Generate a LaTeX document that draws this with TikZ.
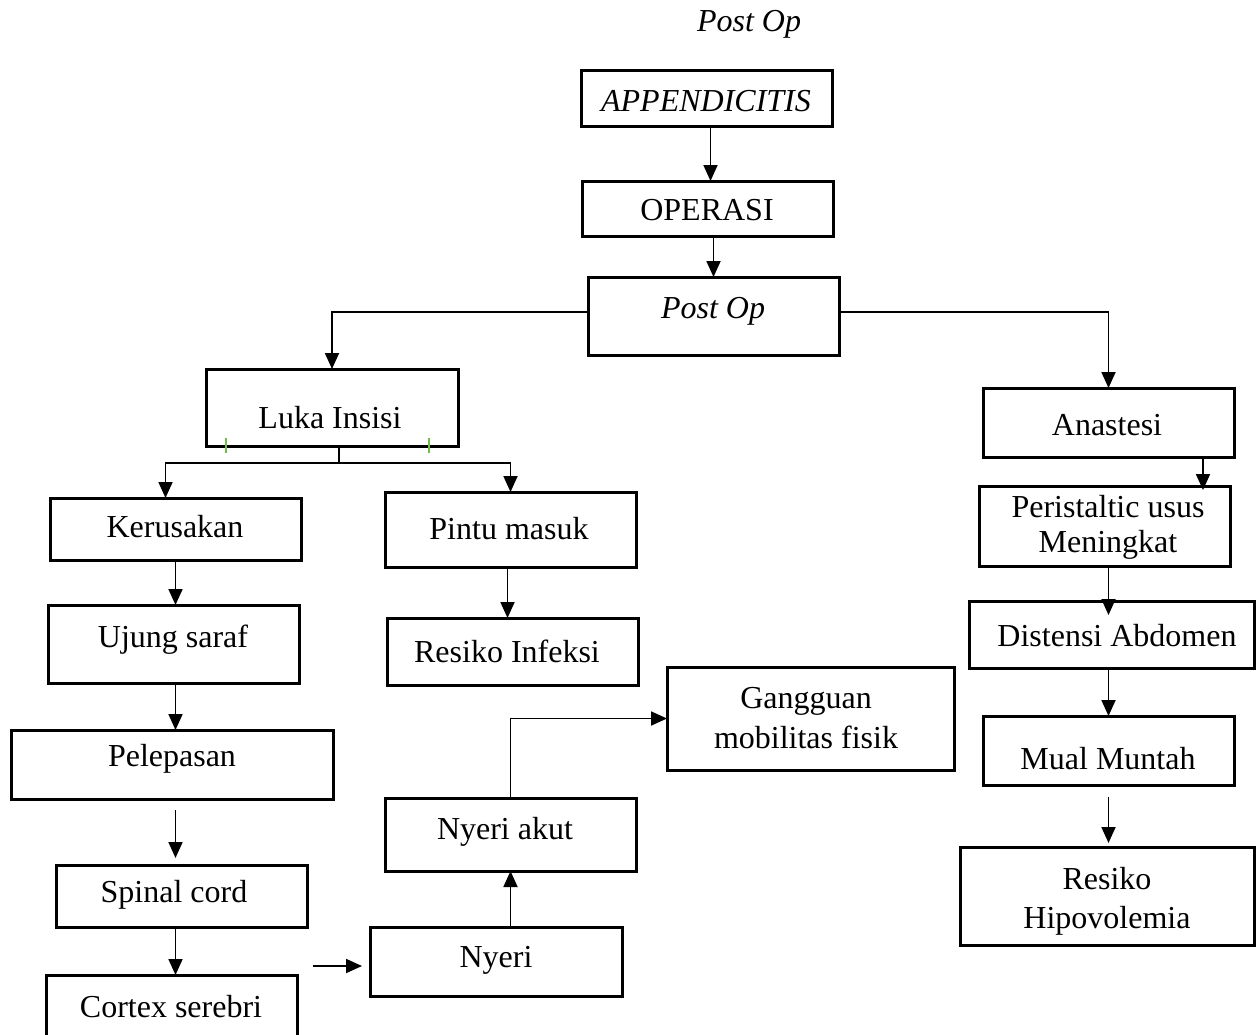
\documentclass[tikz,border=0pt]{standalone}
\usepackage{fontspec}
\setmainfont{Liberation Serif}
\usetikzlibrary{arrows.meta}
\definecolor{tickgreen}{RGB}{112,190,72}
\newcommand{\bx}[5]{\node[box, minimum width={(#4)-(#2)}, minimum height={(#5)-(#3)}] (#1) at ({((#2)+(#4))/2},{((#3)+(#5))/2}) {};}
\begin{document}
\begin{tikzpicture}[x=1pt,y=-1pt,
 box/.style={draw, line width=3pt, inner sep=0pt, outer sep=0pt},
 txt/.style={anchor=base, font=\fontsize{32}{39}\selectfont, inner sep=0pt},
 itxt/.style={txt, font=\fontsize{32}{39}\selectfont\itshape},
 conn/.style={line width=1.8pt},
 arr/.style={conn, -{Triangle[length=16pt,width=14pt]}},
]
\useasboundingbox (0,0) rectangle (1256,1034);

% title
\node[itxt] (title) at (749,31) {Post Op};

% boxes
\bx{app}{581}{70}{832}{126}
\bx{op}{582}{181}{833}{236}
\bx{post}{588}{277}{839}{355}
\bx{luka}{206}{369}{458}{446}
\bx{keru}{50}{498}{301}{560}
\bx{pintu}{385}{492}{636}{567}
\bx{ujung}{48}{605}{299}{683}
\bx{resinf}{387}{618}{638}{685}
\bx{pel}{11}{730}{333}{799}
\bx{spin}{56}{865}{307}{927}
\bx{cortex}{46}{975}{297}{1040}
\bx{nyeri}{370}{927}{622}{996}
\bx{nyakut}{385}{798}{636}{871}
\bx{gang}{667}{667}{954}{770}
\bx{anast}{983}{388}{1234}{457}
\bx{peri}{979}{486}{1230}{566}
\bx{dist}{969}{601}{1254}{668}
\bx{mual}{983}{716}{1234}{785}
\bx{hipo}{960}{847}{1254}{945}

% texts
\node[itxt] (t-app) at (706,111) {APPENDICITIS};
\node[txt] (t-op) at (707,220) {OPERASI};
\node[itxt] (t-post) at (713,318) {Post Op};
\node[txt] (t-luka) at (330,428) {Luka Insisi};
\node[txt] (t-keru) at (175,537) {Kerusakan};
\node[txt] (t-pintu) at (509,539) {Pintu masuk};
\node[txt] (t-ujung) at (173,647) {Ujung saraf};
\node[txt] (t-resinf) at (507,662) {Resiko Infeksi};
\node[txt] (t-pel) at (172,766) {Pelepasan};
\node[txt] (t-spin) at (174,902) {Spinal cord};
\node[txt] (t-cortex) at (171,1017) {Cortex serebri};
\node[txt] (t-nyeri) at (496,967) {Nyeri};
\node[txt] (t-nyakut) at (505,839) {Nyeri akut};
\node[txt] (t-gang1) at (806,708) {Gangguan};
\node[txt] (t-gang2) at (806,748) {mobilitas fisik};
\node[txt] (t-anast) at (1107,435) {Anastesi};
\node[txt] (t-peri1) at (1108,517) {Peristaltic usus};
\node[txt] (t-peri2) at (1108,552) {Meningkat};
\node[txt] (t-dist) at (1117,646) {Distensi Abdomen};
\node[txt] (t-mual) at (1108,769) {Mual Muntah};
\node[txt] (t-hipo1) at (1107,889) {Resiko};
\node[txt] (t-hipo2) at (1107,928) {Hipovolemia};

% connectors
\draw[arr] ([xshift=4pt]app.south) -- ([xshift=4pt]app.south |- op.north);
\draw[arr] (op.south -| post.north) -- (post.north);
\draw[arr] ([yshift=4pt]post.west) -| (luka.north);
\draw[arr] ([yshift=4pt]post.east) -| (anast.north);

\coordinate (br) at (339,463);
\draw[conn] (br |- luka.south) -- (br);
\draw[arr] (br) -| ([xshift=-10pt]keru.north);
\draw[arr] (br) -| (pintu.north);

\draw[arr] (keru.south) -- (keru.south |- ujung.north);
\draw[arr] (keru.south |- ujung.south) -- (keru.south |- pel.north);
\draw[arr, shorten <=11pt, shorten >=7pt] (keru.south |- pel.south) -- (keru.south |- spin.north);
\draw[arr] (keru.south |- spin.south) -- (keru.south |- cortex.north);

\draw[arr] ([xshift=-3pt]pintu.south) -- ([xshift=-3pt]pintu.south |- resinf.north);

\coordinate (nyin) at (313,966);
\draw[arr, shorten >=8pt] (nyin) -- (nyin -| nyeri.west);
\draw[arr] (nyeri.north -| nyakut.south) -- (nyakut.south);
\draw[arr] (nyakut.north) |- (gang.west);

\draw[arr, shorten >=-4pt] ([xshift=-31pt]anast.south east) -- ([xshift=-31pt]anast.south east |- peri.north);
\draw[arr, shorten >=-14pt] (peri.south -| anast.south) -- (anast.south |- dist.north);
\draw[arr] (dist.south -| mual.north) -- (mual.north);
\draw[arr, shorten <=12pt, shorten >=4pt] (mual.south) -- (mual.south |- hipo.north);

% green ticks
\draw[tickgreen, line width=2pt] (226,438) -- (226,453);
\draw[tickgreen, line width=2pt] (429,438) -- (429,453);
\end{tikzpicture}
\end{document}
